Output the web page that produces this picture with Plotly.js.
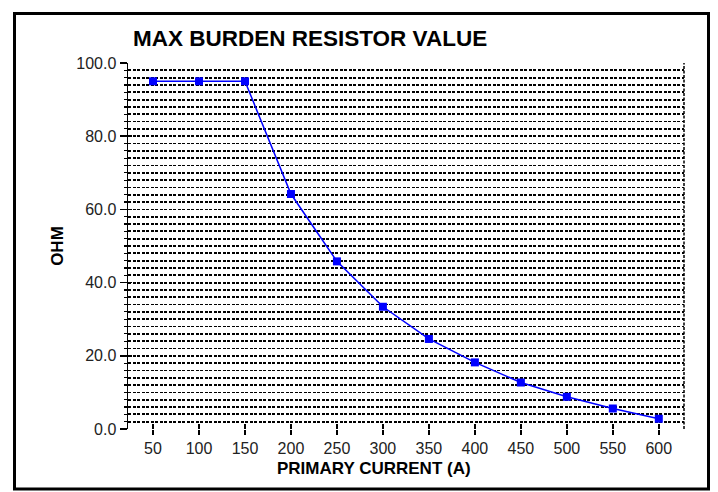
<!DOCTYPE html>
<html>
<head>
<meta charset="utf-8">
<script src="https://cdn.plot.ly/plotly-3.0.1.min.js"></script>
<style>html,body{margin:0;padding:0;background:#fff;}#chart{width:718px;height:492px;}</style>
</head>
<body>
<div id="chart"></div>
<script>
const current = [50, 100, 150, 200, 250, 300, 350, 400, 450, 500, 550, 600];
const ohm = [95.0, 95.0, 95.0, 64.2, 45.8, 33.4, 24.6, 18.2, 12.7, 8.8, 5.6, 2.8];
const xTickVals = current;
const yTickVals = [0, 20, 40, 60, 80, 100];

const W = 718, H = 492, L = 128, R = 34, T = 63, B = 63;
const pw = W - L - R, ph = H - T - B;
const px = v => (v - L) / pw;
const py = v => (H - B - v) / ph;

const gridDash = '3px,1.5px';
const tickFont = {family: 'Arial, Liberation Sans, sans-serif', size: 16, color: '#222'};
const boldFont = {family: 'Arial, Liberation Sans, sans-serif', size: 17, color: '#000', weight: 'bold'};

const traces = [
  {
    x: current, y: ohm, type: 'scatter', mode: 'lines+markers',
    line: {color: '#0000ff', width: 1.5},
    marker: {symbol: 'square', size: 8, color: '#0000ff'},
    hoverinfo: 'x+y', showlegend: false
  },
  {x: [], y: [], xaxis: 'x2', yaxis: 'y2', type: 'scatter', mode: 'lines', showlegend: false, hoverinfo: 'skip'}
];

const layout = {
  width: W, height: H,
  margin: {l: L, r: R, t: T, b: B, pad: 0},
  paper_bgcolor: '#fff', plot_bgcolor: '#fff',
  showlegend: false,
  title: {
    text: 'MAX BURDEN RESISTOR VALUE',
    font: {family: 'Arial, Liberation Sans, sans-serif', size: 22.5, color: '#000', weight: 'bold'},
    xref: 'container', x: 133 / W, xanchor: 'left',
    yref: 'container', y: 1 - 38 / H, yanchor: 'middle'
  },
  xaxis: {
    range: [22.8, 627.4], tickvals: xTickVals, ticktext: xTickVals.map(String),
    ticks: 'outside', ticklen: 5, tickwidth: 1.5, tickcolor: '#000',
    showgrid: false, zeroline: false, showline: false,
    tickfont: tickFont, fixedrange: true
  },
  yaxis: {
    range: [0, 100], tickvals: yTickVals, tickformat: '.1f',
    ticks: 'outside', ticklen: 7, tickwidth: 1.5, tickcolor: '#000',
    showgrid: true, gridcolor: '#000', gridwidth: 1.8, griddash: gridDash,
    zeroline: false, showline: true, linecolor: '#000', linewidth: 1.5,
    tickfont: tickFont, fixedrange: true,
    minor: {dtick: 2, tick0: 0, ticks: 'outside', ticklen: 3, tickwidth: 1.2, tickcolor: '#000',
            showgrid: true, gridcolor: '#000', gridwidth: 1.8, griddash: gridDash},
    title: {text: 'OHM', font: boldFont, standoff: 8}
  },
  xaxis2: {
    overlaying: 'x', range: [22.8, 627.4], tickvals: xTickVals, showticklabels: false,
    ticks: 'inside', ticklen: 5, tickwidth: 1.5, tickcolor: '#000',
    showgrid: false, zeroline: false, showline: false, fixedrange: true, side: 'bottom'
  },
  yaxis2: {
    overlaying: 'y', range: [0, 100], tickvals: yTickVals, showticklabels: false,
    ticks: 'inside', ticklen: 4, tickwidth: 1.5, tickcolor: '#000',
    minor: {dtick: 2, tick0: 0, ticks: 'inside', ticklen: 3, tickwidth: 1.2, tickcolor: '#000', showgrid: false},
    showgrid: false, zeroline: false, showline: false, fixedrange: true, side: 'left'
  },
  annotations: [
    {text: 'PRIMARY CURRENT (A)', xref: 'paper', yref: 'paper', x: px(374), y: py(469),
     xanchor: 'center', yanchor: 'middle', showarrow: false, font: boldFont, borderpad: 0}
  ],
  shapes: [
    {type: 'line', xref: 'paper', yref: 'paper', x0: 1, x1: 1, y0: 0, y1: 1,
     line: {color: '#000', width: 1.5, dash: gridDash}, layer: 'above'},
    {type: 'rect', xref: 'paper', yref: 'paper',
     x0: px(14.5), x1: px(708.5), y0: py(489), y1: py(13.5),
     line: {color: '#000', width: 3}, fillcolor: 'rgba(0,0,0,0)', layer: 'above'}
  ]
};

Plotly.newPlot('chart', traces, layout, {displayModeBar: false, staticPlot: true});
</script>
</body>
</html>
